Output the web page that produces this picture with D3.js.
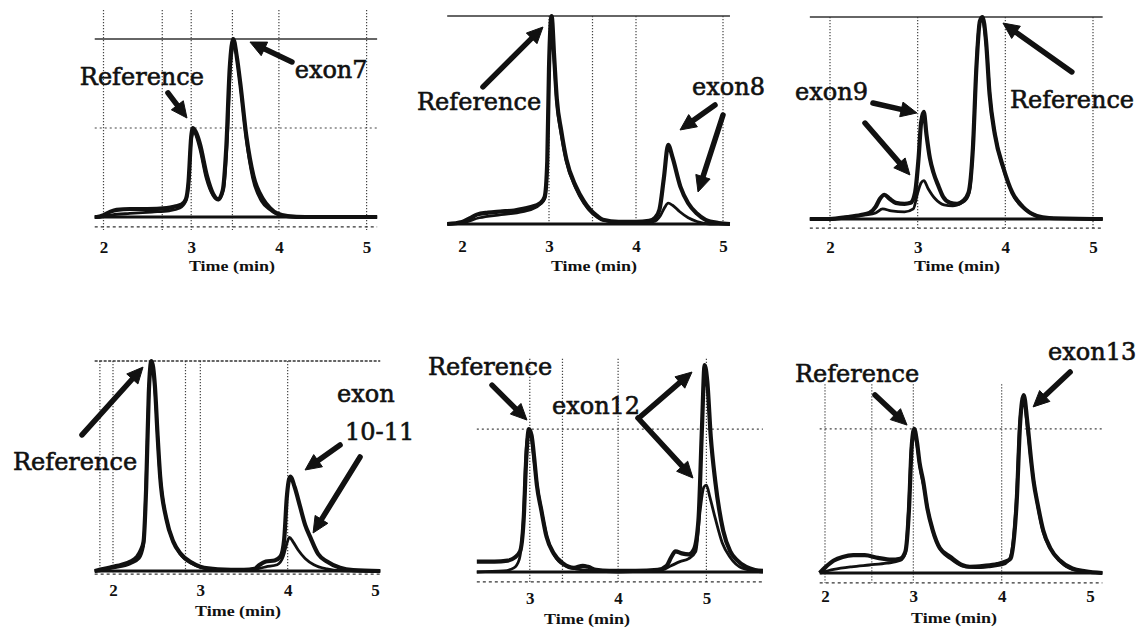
<!DOCTYPE html>
<html><head><meta charset="utf-8">
<script src="https://cdn.jsdelivr.net/npm/d3@7"></script>
<style>html,body{margin:0;padding:0;background:#fff;}svg{display:block;}</style>
</head><body>
<svg id="chart" width="1142" height="633"></svg>
<script>
// ---------- DATA (time in min, signal relative to panel full scale) ----------
const tickValuesA = [2, 3, 4, 5];
const tickValuesB = [3, 4, 5];
const axisTitle = "Time (min)";

// Panel 1: exon7
const p1TraceA = [[1.90,0],[1.92,0],[2.0,0.01],[2.08,0.03],[2.15,0.04],[2.3,0.045],[2.5,0.045],[2.72,0.05],[2.82,0.06],[2.89,0.07],[2.94,0.1],[2.97,0.2],[3.0,0.45],[3.02,0.5],[3.06,0.47],[3.1,0.41],[3.18,0.23],[3.25,0.13],[3.31,0.1],[3.36,0.15],[3.40,0.39],[3.44,0.84],[3.48,1.0],[3.52,0.9],[3.56,0.75],[3.63,0.45],[3.71,0.23],[3.82,0.1],[3.9,0.05],[3.98,0.02],[4.1,0.005],[4.3,0],[5.12,0]];
const p1TraceB = [[1.90,0],[1.95,0],[2.1,0.012],[2.3,0.02],[2.55,0.028],[2.75,0.035],[2.87,0.05],[2.94,0.09],[2.97,0.19],[3.0,0.43],[3.03,0.48],[3.06,0.45],[3.1,0.38],[3.17,0.22],[3.25,0.12],[3.31,0.095],[3.37,0.16],[3.41,0.42],[3.45,0.86],[3.49,0.97],[3.53,0.86],[3.57,0.7],[3.63,0.43],[3.7,0.22],[3.8,0.09],[3.9,0.04],[4.0,0.012],[4.2,0],[5.12,0]];
const p1Grid = [2, 2.67, 3, 3.47, 4, 5];
const p1Levels = [0.5];
const p1Labels = [{text:"Reference", t:1.73, v:0.74}, {text:"exon7", t:4.18, v:0.78}];
const p1Arrows = [[2.735,0.697,2.952,0.556],[4.149,0.871,3.670,0.983]];

// Panel 2: exon8
const p2TraceA = [[1.83,0],[2.0,0.01],[2.1,0.03],[2.17,0.045],[2.3,0.055],[2.44,0.06],[2.6,0.065],[2.78,0.08],[2.9,0.1],[2.95,0.13],[2.98,0.3],[3.0,0.75],[3.03,1.0],[3.06,0.8],[3.09,0.6],[3.14,0.45],[3.2,0.31],[3.31,0.18],[3.4,0.11],[3.47,0.07],[3.55,0.04],[3.62,0.02],[3.8,0.01],[4.0,0.01],[4.15,0.015],[4.22,0.03],[4.27,0.07],[4.32,0.22],[4.37,0.38],[4.42,0.32],[4.51,0.18],[4.6,0.1],[4.7,0.05],[4.8,0.02],[4.95,0.005],[5.08,0]];
const p2TraceB = [[1.83,0],[2.0,0.005],[2.2,0.03],[2.45,0.045],[2.7,0.06],[2.85,0.08],[2.95,0.12],[2.98,0.28],[3.0,0.72],[3.03,0.97],[3.06,0.78],[3.09,0.58],[3.14,0.43],[3.2,0.3],[3.31,0.17],[3.4,0.1],[3.5,0.05],[3.62,0.02],[3.8,0.008],[4.0,0.008],[4.2,0.012],[4.28,0.04],[4.33,0.08],[4.37,0.1],[4.42,0.09],[4.5,0.06],[4.6,0.03],[4.7,0.012],[4.85,0],[5.08,0]];
const p2Grid = [3, 3.5, 4, 5];
const p2Levels = [];
const p2Labels = [{text:"Reference", t:1.483, v:0.548}, {text:"exon8", t:4.644, v:0.62}];
const p2Arrows = [[2.241,0.659,2.931,0.947],[4.908,0.572,4.506,0.452],[5.0,0.524,4.713,0.154]];

// Panel 3: exon9
const p3TraceA = [[1.77,0],[2.0,0],[2.2,0.01],[2.35,0.02],[2.45,0.03],[2.52,0.06],[2.57,0.1],[2.62,0.12],[2.68,0.1],[2.75,0.08],[2.85,0.075],[2.92,0.08],[2.97,0.13],[3.01,0.3],[3.04,0.48],[3.07,0.53],[3.1,0.42],[3.14,0.3],[3.18,0.23],[3.24,0.16],[3.29,0.11],[3.37,0.08],[3.45,0.075],[3.52,0.09],[3.58,0.13],[3.63,0.35],[3.67,0.75],[3.71,0.98],[3.74,1.0],[3.78,0.88],[3.82,0.62],[3.88,0.42],[3.98,0.25],[4.08,0.13],[4.2,0.06],[4.36,0.015],[4.5,0.005],[5.11,0]];
const p3TraceB = [[1.77,0],[2.0,0],[2.2,0.01],[2.4,0.02],[2.52,0.03],[2.6,0.05],[2.7,0.04],[2.85,0.035],[2.95,0.05],[3.0,0.13],[3.04,0.18],[3.07,0.19],[3.12,0.15],[3.2,0.1],[3.3,0.07],[3.4,0.065],[3.5,0.08],[3.56,0.1],[3.6,0.16],[3.64,0.45],[3.68,0.85],[3.72,0.99],[3.75,0.97],[3.79,0.82],[3.83,0.58],[3.9,0.38],[3.99,0.23],[4.1,0.11],[4.22,0.05],[4.38,0.012],[4.5,0.004],[5.11,0]];
const p3Grid = [2, 3, 4, 5];
const p3Levels = [];
const p3Labels = [{text:"exon9", t:1.601, v:0.589}, {text:"Reference", t:4.052, v:0.55}];
const p3Arrows = [[2.49,0.574,2.992,0.525],[2.399,0.475,2.912,0.218],[4.759,0.728,3.973,0.97]];

// Panel 4: exon10-11
const p4TraceA = [[1.79,0],[1.9,0.01],[2.0,0.02],[2.1,0.03],[2.2,0.045],[2.27,0.065],[2.32,0.1],[2.35,0.14],[2.38,0.4],[2.41,0.85],[2.44,1.0],[2.48,0.88],[2.51,0.65],[2.54,0.45],[2.61,0.25],[2.69,0.14],[2.77,0.085],[2.9,0.04],[3.0,0.02],[3.2,0.008],[3.5,0.005],[3.62,0.01],[3.68,0.03],[3.75,0.045],[3.85,0.05],[3.92,0.07],[3.96,0.15],[3.99,0.35],[4.03,0.45],[4.08,0.4],[4.14,0.31],[4.2,0.22],[4.26,0.16],[4.35,0.08],[4.45,0.045],[4.6,0.015],[4.75,0.004],[5.06,0]];
const p4TraceB = [[1.79,0],[2.0,0.015],[2.2,0.035],[2.3,0.06],[2.35,0.12],[2.38,0.45],[2.42,0.92],[2.45,0.98],[2.49,0.8],[2.53,0.5],[2.6,0.27],[2.68,0.15],[2.77,0.08],[2.9,0.035],[3.0,0.018],[3.2,0.006],[3.5,0.003],[3.65,0.01],[3.75,0.02],[3.88,0.03],[3.95,0.07],[3.99,0.13],[4.02,0.16],[4.06,0.14],[4.12,0.1],[4.2,0.06],[4.3,0.03],[4.45,0.01],[4.6,0.002],[5.06,0]];
const p4Grid = [1.85, 2, 2.83, 3, 4];
const p4Levels = [];
const p4Labels = [{text:"Reference", t:0.855, v:0.481}, {text:"exon", t:4.566, v:0.805}, {text:"10-11", t:4.657, v:0.624}];
const p4Arrows = [[1.645,0.648,2.344,0.971],[4.6,0.6,4.199,0.481],[4.829,0.543,4.291,0.181]];

// Panel 5: exon12
const p5TraceA = [[2.4,0.05],[2.6,0.05],[2.75,0.055],[2.83,0.07],[2.89,0.1],[2.93,0.25],[2.96,0.55],[2.99,0.69],[3.02,0.66],[3.05,0.55],[3.08,0.42],[3.13,0.3],[3.19,0.17],[3.27,0.09],[3.38,0.04],[3.5,0.02],[3.6,0.03],[3.66,0.025],[3.75,0.01],[3.9,0.005],[4.2,0.005],[4.45,0.01],[4.55,0.03],[4.6,0.07],[4.65,0.1],[4.72,0.09],[4.8,0.085],[4.86,0.11],[4.91,0.25],[4.95,0.7],[4.98,1.0],[5.01,0.92],[5.05,0.65],[5.1,0.44],[5.19,0.2],[5.27,0.1],[5.34,0.06],[5.45,0.025],[5.55,0.01],[5.64,0.005]];
const p5TraceB = [[2.4,0],[2.7,0.005],[2.82,0.02],[2.88,0.06],[2.93,0.28],[2.96,0.6],[2.99,0.68],[3.02,0.64],[3.05,0.53],[3.09,0.4],[3.14,0.28],[3.2,0.16],[3.28,0.08],[3.38,0.035],[3.6,0.01],[4.0,0],[4.5,0.01],[4.6,0.03],[4.7,0.05],[4.8,0.065],[4.88,0.1],[4.93,0.3],[4.97,0.41],[5.0,0.42],[5.04,0.36],[5.1,0.26],[5.18,0.14],[5.27,0.07],[5.4,0.02],[5.64,0]];
const p5Grid = [3, 3.37, 4, 5];
const p5Levels = [0.69];
const p5Labels = [{text:"Reference", t:1.847, v:0.952}, {text:"exon12", t:3.251, v:0.763}];
const p5Arrows = [[2.572,0.903,2.968,0.734],[4.248,0.749,4.837,0.966],[4.225,0.744,4.848,0.454]];

// Panel 6: exon13
const p6TraceA = [[1.94,0],[2.0,0.03],[2.1,0.07],[2.2,0.09],[2.32,0.1],[2.45,0.1],[2.6,0.085],[2.75,0.075],[2.85,0.08],[2.91,0.12],[2.95,0.35],[2.98,0.7],[3.01,0.81],[3.04,0.74],[3.07,0.62],[3.11,0.52],[3.16,0.36],[3.22,0.24],[3.3,0.14],[3.42,0.09],[3.55,0.045],[3.64,0.035],[3.8,0.04],[3.95,0.05],[4.05,0.065],[4.1,0.08],[4.14,0.2],[4.17,0.4],[4.21,0.85],[4.25,1.0],[4.29,0.85],[4.33,0.65],[4.36,0.52],[4.41,0.38],[4.47,0.24],[4.55,0.14],[4.66,0.07],[4.8,0.025],[4.95,0.01],[5.14,0]];
const p6TraceB = [[1.94,0],[2.1,0.02],[2.3,0.035],[2.5,0.045],[2.7,0.055],[2.85,0.07],[2.91,0.11],[2.95,0.4],[2.98,0.72],[3.01,0.79],[3.04,0.72],[3.08,0.58],[3.12,0.48],[3.17,0.34],[3.23,0.22],[3.31,0.13],[3.42,0.08],[3.55,0.04],[3.7,0.03],[3.85,0.035],[4.0,0.045],[4.08,0.07],[4.13,0.18],[4.17,0.45],[4.21,0.88],[4.25,0.97],[4.29,0.82],[4.34,0.6],[4.4,0.4],[4.47,0.23],[4.56,0.13],[4.67,0.06],[4.8,0.02],[5.0,0.005],[5.14,0]];
const p6Grid = [2, 2.53, 3, 4];
const p6Levels = [0.81];
const p6Labels = [{text:"Reference", t:1.66, v:1.073}, {text:"exon13", t:4.525, v:1.197}];
const p6Arrows = [[2.566,1.0,2.929,0.831],[4.775,1.129,4.356,0.933]];

// ---------- LAYOUT (pixel frames & styles) ----------
const panels = [
  {traces:[p1TraceA,p1TraceB], grid:p1Grid, levels:p1Levels, labels:p1Labels, arrows:p1Arrows, ticks:tickValuesA,
   xr:[103.5,366.6], yr:[217,39], tExt:[1.90,5.12], gridV:[-0.073,1.163], topLine:"solid", axisV:-0.056, tickDy:37, titleT:3.465, titleDy:54},
  {traces:[p2TraceA,p2TraceB], grid:p2Grid, levels:p2Levels, labels:p2Labels, arrows:p2Arrows, ticks:tickValuesA,
   xr:[462,723], yr:[224,16], tExt:[1.83,5.08], gridV:[-0.01,1.0], topLine:"solid", axisV:null, tickDy:29, titleT:3.517, titleDy:47},
  {traces:[p3TraceA,p3TraceB], grid:p3Grid, levels:p3Levels, labels:p3Labels, arrows:p3Arrows, ticks:tickValuesA,
   xr:[830,1093], yr:[219,17], tExt:[1.77,5.11], gridV:[-0.045,1.0], topLine:"solid", axisV:-0.045, tickDy:35, titleT:3.448, titleDy:52},
  {traces:[p4TraceA,p4TraceB], grid:p4Grid, levels:p4Levels, labels:p4Labels, arrows:p4Arrows, ticks:tickValuesA,
   xr:[113,375], yr:[571,361], tExt:[1.79,5.06], gridV:[-0.01,1.0], topLine:"dotted", axisV:-0.015, tickDy:26, titleT:3.432, titleDy:45},
  {traces:[p5TraceA,p5TraceB], grid:p5Grid, levels:p5Levels, labels:p5Labels, arrows:p5Arrows, ticks:tickValuesB,
   xr:[441.5,706.4], yr:[572,365], tExt:[2.4,5.64], gridV:[-0.048,1.03], topLine:null, axisV:-0.048, tickDy:33, titleT:3.648, titleDy:52},
  {traces:[p6TraceA,p6TraceB], grid:p6Grid, levels:p6Levels, labels:p6Labels, arrows:p6Arrows, ticks:tickValuesA,
   xr:[825,1090], yr:[573,395], tExt:[1.94,5.14], gridV:[-0.056,1.06], topLine:null, axisV:-0.056, tickDy:30, titleT:3.461, titleDy:50}
];

const svg = d3.select("#chart");
const serif = "'Liberation Serif','Times New Roman',serif";
const labelFont = "'DejaVu Serif',serif";

function drawArrow(g, x1, y1, x2, y2) {
  const a = Math.atan2(y2 - y1, x2 - x1);
  const hl = 16, hw = 7.5;
  const bx = x2 - hl * Math.cos(a), by = y2 - hl * Math.sin(a);
  const px = -Math.sin(a), py = Math.cos(a);
  g.append("line").attr("x1", x1).attr("y1", y1).attr("x2", bx + 2*Math.cos(a)).attr("y2", by + 2*Math.sin(a))
    .attr("stroke", "#111").attr("stroke-width", 5.5).attr("stroke-linecap", "round");
  g.append("path")
    .attr("d", `M${x2},${y2}L${bx + px*hw},${by + py*hw}L${bx - px*hw},${by - py*hw}Z`)
    .attr("fill", "#111").attr("stroke", "#111").attr("stroke-width", 1).attr("stroke-linejoin", "round");
}

panels.forEach(p => {
  const x = d3.scaleLinear().domain([2, 5]).range(p.xr);
  const y = d3.scaleLinear().domain([0, 1]).range(p.yr);
  const g = svg.append("g");
  const xL = x(p.tExt[0]), xR = x(p.tExt[1]);

  // vertical dotted grid lines
  g.selectAll("line.vg").data(p.grid).join("line").attr("class", "vg")
    .attr("x1", d => x(d)).attr("x2", d => x(d))
    .attr("y1", y(p.gridV[1])).attr("y2", y(p.gridV[0]))
    .attr("stroke", "#444").attr("stroke-width", 1.2).attr("stroke-dasharray", "1.2,1.8");
  // horizontal dotted levels
  g.selectAll("line.hg").data(p.levels).join("line").attr("class", "hg")
    .attr("x1", xL).attr("x2", xR).attr("y1", d => y(d)).attr("y2", d => y(d))
    .attr("stroke", "#444").attr("stroke-width", 1.2).attr("stroke-dasharray", "2,3");
  // top full-scale line
  if (p.topLine) {
    g.append("line").attr("x1", xL).attr("x2", xR).attr("y1", y(1)).attr("y2", y(1))
      .attr("stroke", "#333").attr("stroke-width", p.topLine === "solid" ? 1.4 : 1.6)
      .attr("stroke-dasharray", p.topLine === "solid" ? null : "3,1.5");
  }
  // dashed axis line
  if (p.axisV !== null) {
    g.append("line").attr("x1", xL).attr("x2", xR).attr("y1", y(p.axisV)).attr("y2", y(p.axisV))
      .attr("stroke", "#333").attr("stroke-width", 1.3).attr("stroke-dasharray", "3,3");
  }
  // baseline
  g.append("line").attr("x1", xL).attr("x2", xR).attr("y1", y(0)).attr("y2", y(0))
    .attr("stroke", "#111").attr("stroke-width", 3);

  // traces
  const line = d3.line().x(d => x(d[0])).y(d => y(d[1])).curve(d3.curveMonotoneX);
  g.selectAll("path.tr").data(p.traces).join("path").attr("class", "tr")
    .attr("d", line).attr("fill", "none").attr("stroke", "#111")
    .attr("stroke-width", (d, i) => i === 0 ? 4.2 : 2.8).attr("stroke-linejoin", "round");

  // tick labels via axis
  const axis = d3.axisBottom(x).tickValues(p.ticks).tickSize(0).tickFormat(d3.format("d"));
  const ag = g.append("g").attr("transform", `translate(0,${y(0) + p.tickDy - 13})`).call(axis);
  ag.select(".domain").remove();
  ag.selectAll("text").attr("font-family", serif).attr("font-weight", "bold").attr("font-size", 17)
    .attr("fill", "#111").attr("dy", "0.71em").attr("y", 0);

  // axis title
  g.append("text").attr("x", x(p.titleT)).attr("y", y(0) + p.titleDy)
    .attr("text-anchor", "middle").attr("font-family", serif).attr("font-weight", "bold")
    .attr("font-size", 15).attr("textLength", 86).attr("lengthAdjust", "spacingAndGlyphs")
    .attr("fill", "#111").text(axisTitle);

  // arrows
  p.arrows.forEach(a => drawArrow(g, x(a[0]), y(a[1]), x(a[2]), y(a[3])));

  // annotation labels
  g.selectAll("text.lab").data(p.labels).join("text").attr("class", "lab")
    .attr("x", d => x(d.t)).attr("y", d => y(d.v))
    .attr("font-family", labelFont).attr("font-size", 24)
    .attr("fill", "#111").attr("stroke", "#111").attr("stroke-width", 0.6)
    .text(d => d.text);
});
</script>
</body></html>
